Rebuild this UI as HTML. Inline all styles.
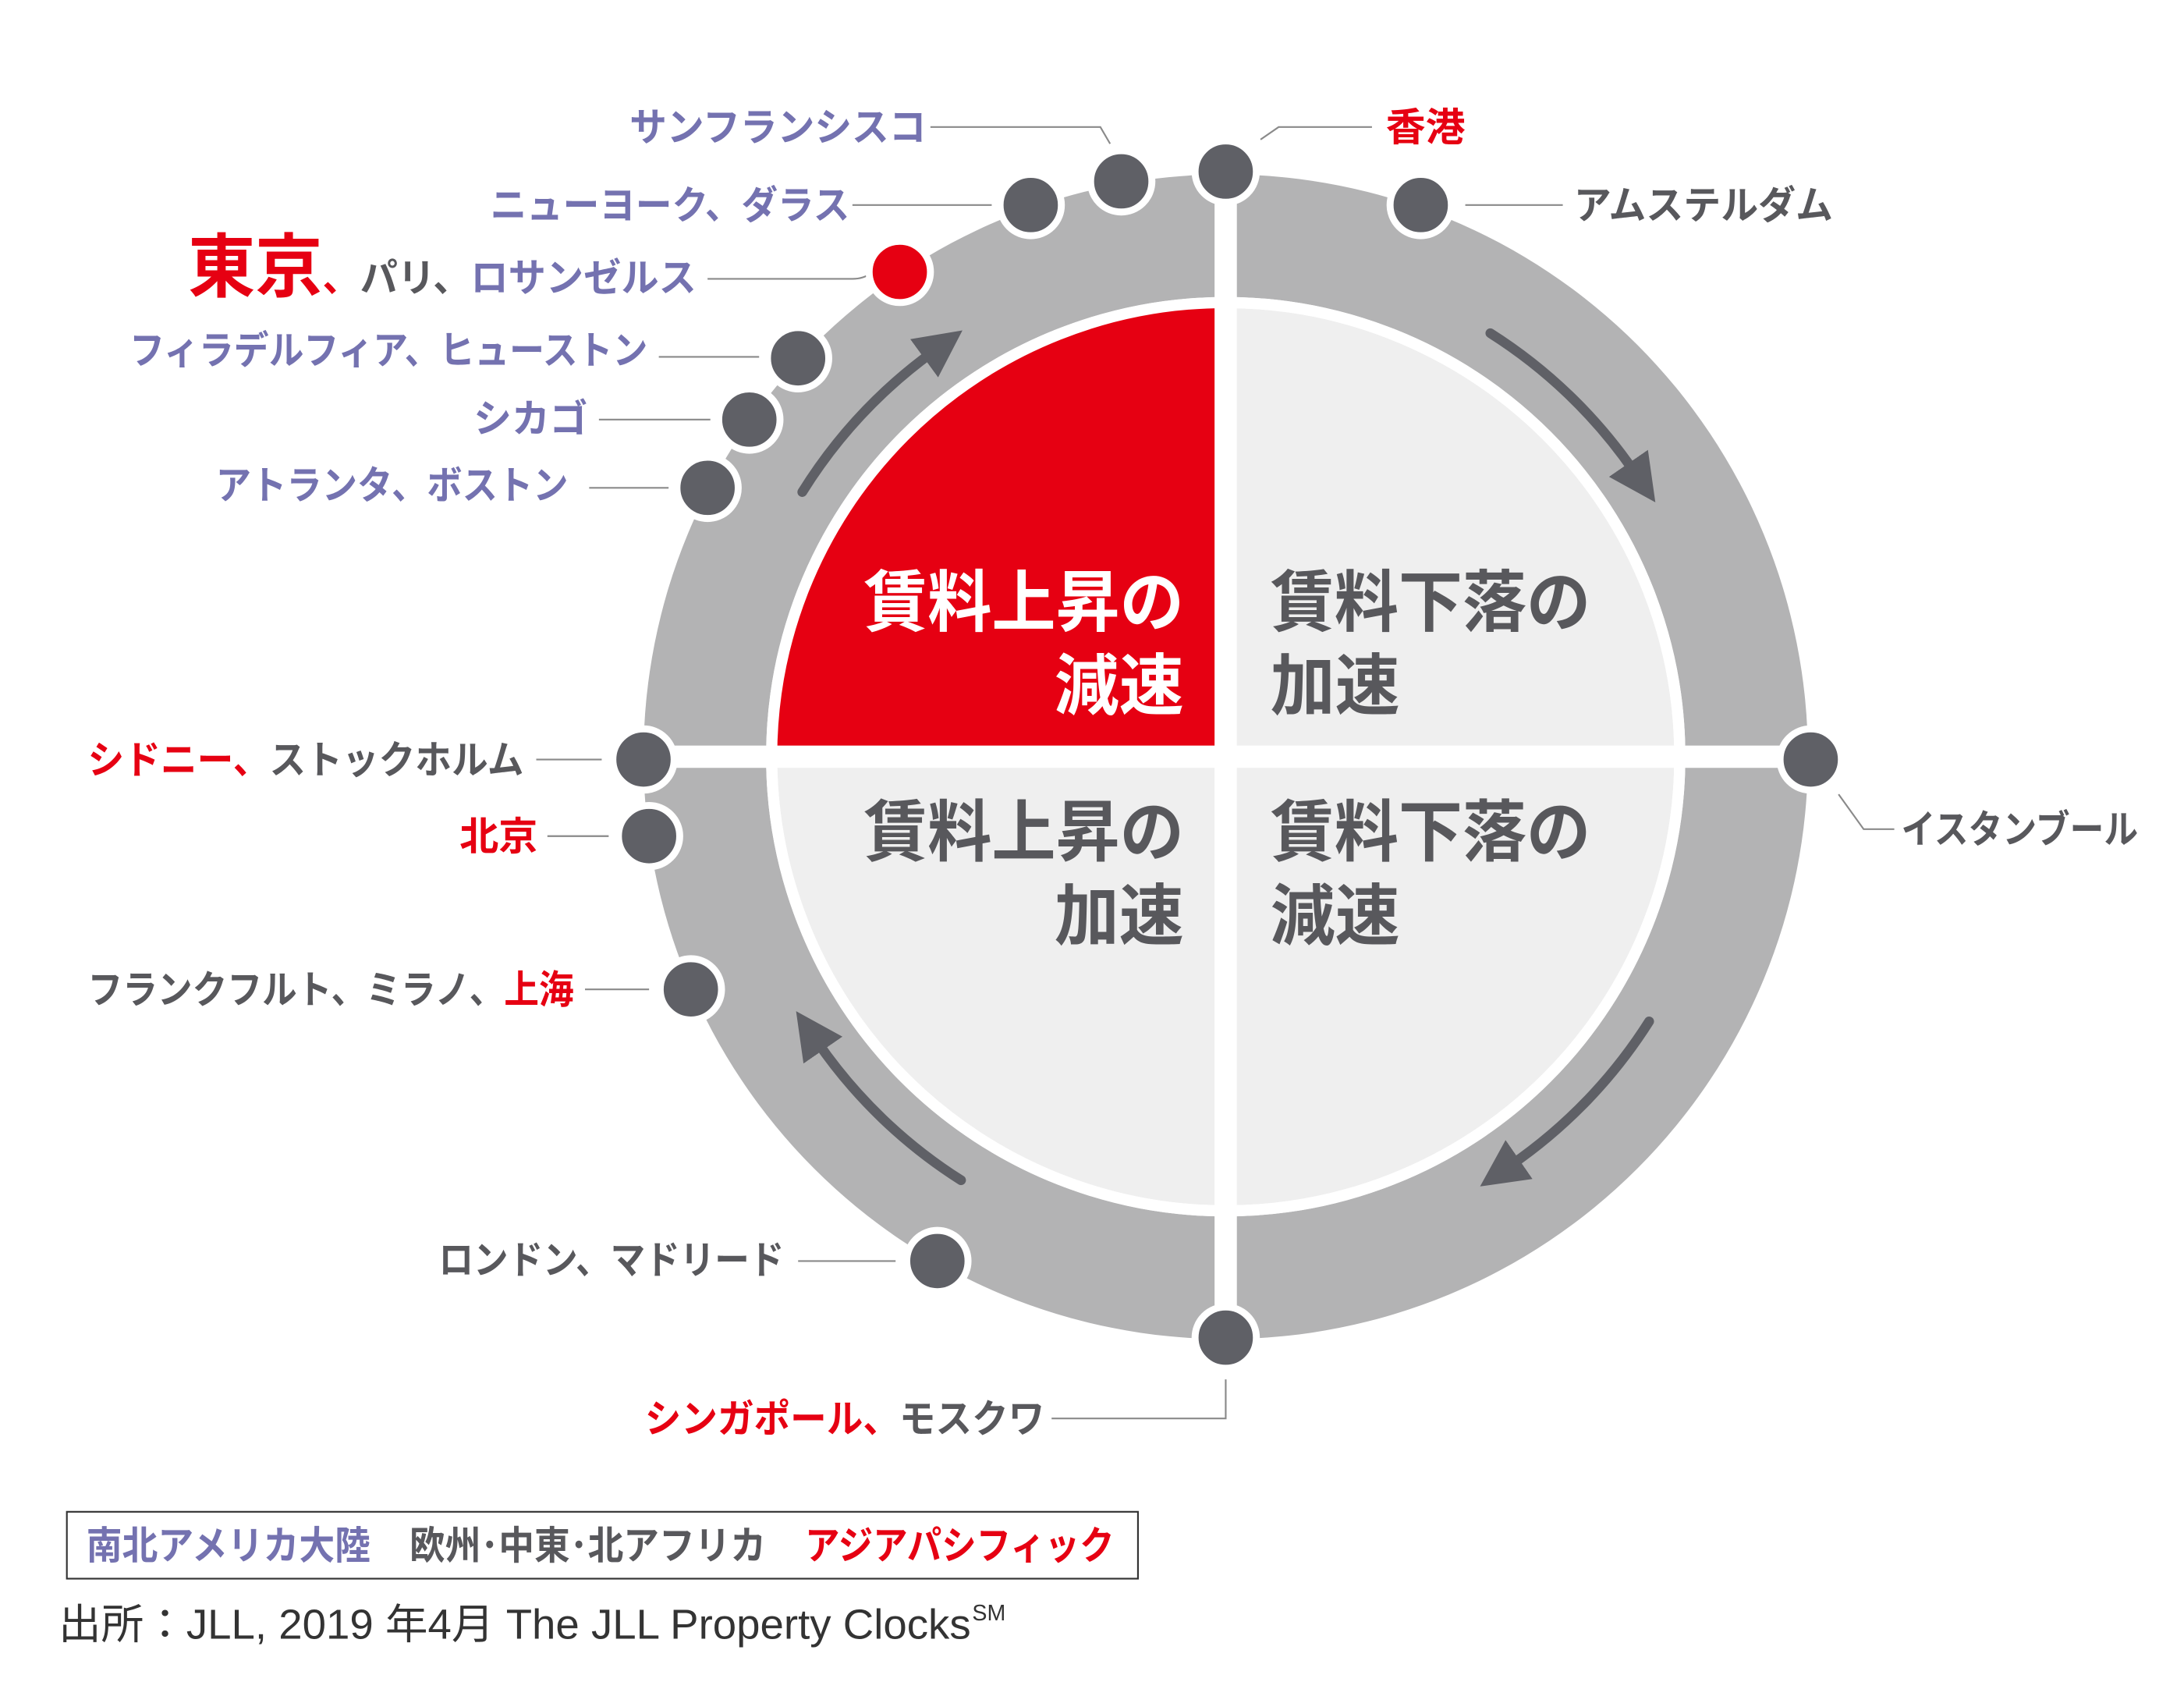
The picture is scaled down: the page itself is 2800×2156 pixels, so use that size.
<!DOCTYPE html>
<html><head><meta charset="utf-8"><style>
html,body{margin:0;padding:0;background:#fff;}
svg{display:block;}
text{font-family:"Liberation Sans","Noto Sans CJK JP",sans-serif;}
.l{font-size:28px;font-weight:bold;}
.p{fill:#7472b0}.g{fill:#58585c}.r{fill:#e60012}
.q{font-size:48px;font-weight:bold;}
.ln{stroke:#8a8a8a;stroke-width:1.2;fill:none;}
.d{fill:#5f6066;stroke:#fff;stroke-width:5;}
.ar{stroke:#5f6066;stroke-width:7;fill:none;stroke-linecap:round;}
</style></head><body>
<svg width="2800" height="2156" viewBox="0 0 1568 1207" xmlns="http://www.w3.org/2000/svg">
<defs>
<marker id="m" viewBox="0 0 10 10" refX="2" refY="5" markerWidth="34" markerHeight="34" markerUnits="userSpaceOnUse" orient="auto">
<path d="M0,0 L10,5 L0,10 z" fill="#5f6066"/></marker>
</defs>
<circle cx="880" cy="543" r="418" fill="#b3b3b4"/>
<circle cx="880" cy="543" r="326" fill="#efefef" stroke="#fff" stroke-width="8"/>
<path d="M880,543 L880,217 A326,326 0 0 0 554,543 Z" fill="#e60012"/>
<circle cx="880" cy="543" r="326" fill="none" stroke="#fff" stroke-width="8"/>
<rect x="872" y="120" width="16" height="846" fill="#fff"/>
<rect x="460" y="535" width="842" height="16" fill="#fff"/>
<path class="ar" d="M576,353 A358,358 0 0 1 669,253" marker-end="url(#m)"/>
<path class="ar" d="M1070,239 A358,358 0 0 1 1173,338" marker-end="url(#m)"/>
<path class="ar" d="M1184,733 A358,358 0 0 1 1085,836" marker-end="url(#m)"/>
<path class="ar" d="M690,847 A358,358 0 0 1 587,748" marker-end="url(#m)"/>
<text class="q" x="850" y="449" text-anchor="end" fill="#fff" textLength="230" lengthAdjust="spacingAndGlyphs">賃料上昇の</text>
<text class="q" x="850" y="509" text-anchor="end" fill="#fff" textLength="93" lengthAdjust="spacingAndGlyphs">減速</text>
<text class="q g" x="912" y="449" textLength="230" lengthAdjust="spacingAndGlyphs">賃料下落の</text>
<text class="q g" x="912" y="509" textLength="93" lengthAdjust="spacingAndGlyphs">加速</text>
<text class="q g" x="850" y="614" text-anchor="end" textLength="230" lengthAdjust="spacingAndGlyphs">賃料上昇の</text>
<text class="q g" x="850" y="674" text-anchor="end" textLength="93" lengthAdjust="spacingAndGlyphs">加速</text>
<text class="q g" x="912" y="614" textLength="230" lengthAdjust="spacingAndGlyphs">賃料下落の</text>
<text class="q g" x="912" y="674" textLength="93" lengthAdjust="spacingAndGlyphs">減速</text>
<path class="ln" d="M668,91 L790,91 L797,103"/>
<path class="ln" d="M905,100 L918,91 L985,91"/>
<path class="ln" d="M612,147 L712,147"/>
<path class="ln" d="M1052,147 L1122,147"/>
<path class="ln" d="M508,200 L612,200 Q620,200 625,196"/>
<path class="ln" d="M473,256 L545,256"/>
<path class="ln" d="M430,301 L510,301"/>
<path class="ln" d="M423,350 L480,350"/>
<path class="ln" d="M385,545 L432,545"/>
<path class="ln" d="M393,600 L437,600"/>
<path class="ln" d="M420,710 L466,710"/>
<path class="ln" d="M573,905 L643,905"/>
<path class="ln" d="M755,1018 L880,1018 L880,990"/>
<path class="ln" d="M1320,570 L1338,595 L1360,595"/>
<circle class="d" cx="805" cy="130" r="22"/>
<circle class="d" cx="740" cy="147" r="22"/>
<circle cx="646" cy="195" r="22" fill="#e60012" stroke="#fff" stroke-width="5"/>
<circle class="d" cx="573" cy="257" r="22"/>
<circle class="d" cx="538" cy="301" r="22"/>
<circle class="d" cx="508" cy="350" r="22"/>
<circle class="d" cx="880" cy="123" r="22"/>
<circle class="d" cx="1020" cy="147" r="22"/>
<circle class="d" cx="462" cy="545" r="22"/>
<circle class="d" cx="466" cy="600" r="22"/>
<circle class="d" cx="496" cy="710" r="22"/>
<circle class="d" cx="673" cy="905" r="22"/>
<circle class="d" cx="880" cy="960" r="22"/>
<circle class="d" cx="1300" cy="545" r="22"/>
<text class="l p" x="452" y="101" textLength="213" lengthAdjust="spacingAndGlyphs">サンフランシスコ</text>
<text class="l r" x="995" y="101" textLength="57" lengthAdjust="spacingAndGlyphs">香港</text>
<text class="l p" x="352" y="157" textLength="258" lengthAdjust="spacingAndGlyphs">ニューヨーク、ダラス</text>
<text class="l g" x="1130" y="157" textLength="186" lengthAdjust="spacingAndGlyphs">アムステルダム</text>
<text class="l" x="135" y="209" textLength="365" lengthAdjust="spacingAndGlyphs"><tspan class="r" font-size="50">東京</tspan><tspan class="r">、</tspan><tspan class="g">パリ、</tspan><tspan class="p">ロサンゼルス</tspan></text>
<text class="l p" x="93" y="261" textLength="372" lengthAdjust="spacingAndGlyphs">フィラデルフィア、ヒューストン</text>
<text class="l p" x="340" y="310" textLength="82" lengthAdjust="spacingAndGlyphs">シカゴ</text>
<text class="l p" x="155" y="358" textLength="253" lengthAdjust="spacingAndGlyphs">アトランタ、ボストン</text>
<text class="l" x="63" y="555" textLength="313" lengthAdjust="spacingAndGlyphs"><tspan class="r">シドニー、</tspan><tspan class="g">ストックホルム</tspan></text>
<text class="l r" x="330" y="610" textLength="56" lengthAdjust="spacingAndGlyphs">北京</text>
<text class="l" x="63" y="720" textLength="349" lengthAdjust="spacingAndGlyphs"><tspan class="g">フランクフルト、ミラノ、</tspan><tspan class="r">上海</tspan></text>
<text class="l g" x="315" y="914" textLength="248" lengthAdjust="spacingAndGlyphs">ロンドン、マドリード</text>
<text class="l" x="463" y="1028" textLength="287" lengthAdjust="spacingAndGlyphs"><tspan class="r">シンガポール、</tspan><tspan class="g">モスクワ</tspan></text>
<text class="l g" x="1365" y="605" textLength="170" lengthAdjust="spacingAndGlyphs">イスタンブール</text>
<rect x="48" y="1085" width="769" height="48" fill="none" stroke="#333" stroke-width="1.2"/>
<text class="l p" x="62" y="1119" textLength="204" lengthAdjust="spacingAndGlyphs">南北アメリカ大陸</text>
<text class="l g" x="294" y="1119" textLength="256" lengthAdjust="spacingAndGlyphs">欧州･中東･北アフリカ</text>
<text class="l r" x="578" y="1119" textLength="222" lengthAdjust="spacingAndGlyphs">アジアパシフィック</text>
<text x="42" y="1176" font-size="30" fill="#333" textLength="655" lengthAdjust="spacingAndGlyphs">出所：JLL, 2019 年4月  The JLL Property Clocks</text>
<text x="698" y="1163" font-size="16" fill="#333">SM</text>
</svg>
</body></html>
